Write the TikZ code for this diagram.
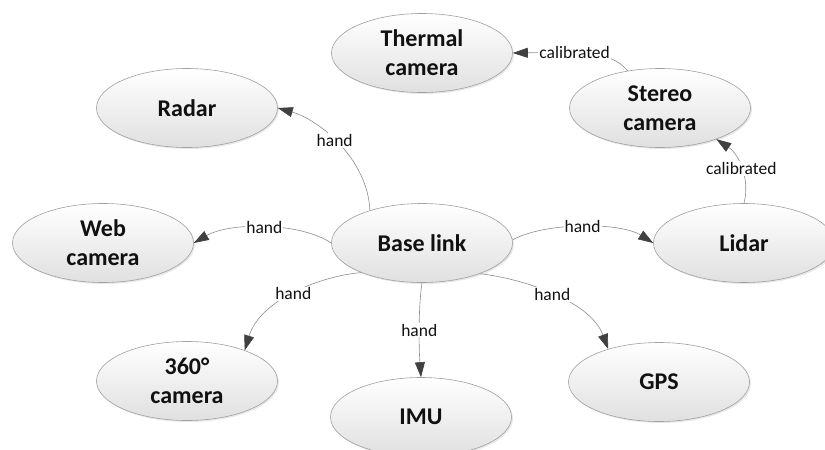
\documentclass[tikz,border=0pt]{standalone}
\usepackage{fontspec}
\setmainfont{Carlito}
\usetikzlibrary{shapes.geometric,arrows.meta,shadows}
\definecolor{nodeborder}{HTML}{A0A0A0}
\definecolor{nodebottom}{HTML}{E0E0E0}
\definecolor{edgecol}{HTML}{8C8C8C}
\definecolor{tipcol}{HTML}{404040}
\definecolor{txt}{HTML}{111111}
\begin{document}
\begin{tikzpicture}[x=1pt,y=-1pt,
  sensor/.style={ellipse, draw=nodeborder, line width=0.6pt, top color=white,
    bottom color=nodebottom, minimum width=181pt, minimum height=79pt,
    inner sep=0pt, align=center, text=txt,
    font=\fontsize{24}{29}\selectfont\bfseries,
    drop shadow={shadow xshift=1.5pt, shadow yshift=-1.5pt, opacity=0.18}},
  link/.style={draw=edgecol, line width=0.6pt,
    -{Triangle[length=15pt,width=10pt,color=tipcol]}},
  lbl/.style={fill=white, inner sep=1pt, text=txt,
    font=\fontsize{17.5}{20}\selectfont}
]
\useasboundingbox (0,0) rectangle (825,450);

\node[sensor] (thermal) at (422,53)  {Thermal\\camera};
\node[sensor] (stereo)  at (660,108) {Stereo\\camera};
\node[sensor] (radar)   at (187,108) {Radar};
\node[sensor] (web)     at (103,243) {Web\\camera};
\node[sensor] (base)    at (422,243) {Base link};
\node[sensor] (lidar)   at (744,243) {Lidar};
\node[sensor] (cam360)  at (187,381) {360°\\camera};
\node[sensor] (imu)     at (421,417) {IMU};
\node[sensor] (gps)     at (659,382) {GPS};

\draw[link] (base.148.6) .. controls (368,160) and (320,120) .. (radar.east)
  node[lbl,pos=0.54] {hand};
\draw[link] (base.west) .. controls (300,222) and (230,222) .. (web.east)
  node[lbl,pos=0.5] {hand};
\draw[link] (base.2) .. controls (545,222) and (620,222) .. (lidar.west)
  node[lbl,pos=0.5] {hand};
\draw[link] (base.206.6) .. controls (320,276) and (260,300) .. (cam360.28)
  node[lbl,pos=0.5] {hand};
\draw[link] (base.south) .. controls (418,310) and (419,350) .. (imu.north)
  node[lbl,pos=0.5] {hand};
\draw[link] (base.332) .. controls (520,278) and (590,300) .. (gps.147.8)
  node[lbl,pos=0.5] {hand};
\draw[link] (stereo.131) .. controls (610,50) and (580,52) .. (thermal.east)
  node[lbl,pos=0.62] {calibrated};
\draw[link] (lidar.north) .. controls (750,180) and (740,155) .. (stereo.331)
  node[lbl,pos=0.5] {calibrated};
\end{tikzpicture}
\end{document}
